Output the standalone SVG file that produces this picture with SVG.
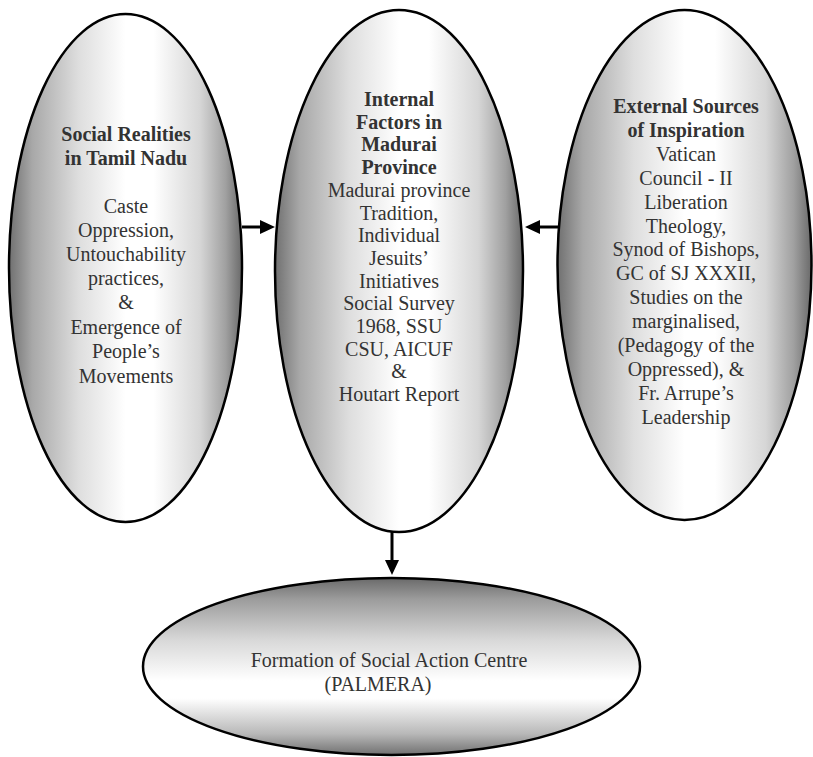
<svg xmlns="http://www.w3.org/2000/svg" width="813" height="757" viewBox="0 0 813 757">
<style>
.node{stroke:#000;stroke-width:2.5}
.v{fill:url(#gv)}
.h{fill:url(#gh)}
text{font-family:"Liberation Serif","Times New Roman",serif;font-size:20px;fill:#333;text-anchor:middle}
.b{font-weight:bold}
.conn{stroke:#000;stroke-width:3;fill:none;marker-end:url(#arr)}
</style>
<defs>
<linearGradient id="gv" x1="0" y1="0" x2="1" y2="0">
<stop offset="0" stop-color="#707070"/>
<stop offset="0.1" stop-color="#a8a8a8"/>
<stop offset="0.3" stop-color="#dedede"/>
<stop offset="0.5" stop-color="#ffffff"/>
<stop offset="0.62" stop-color="#ffffff"/>
<stop offset="0.82" stop-color="#d6d6d6"/>
<stop offset="0.93" stop-color="#a0a0a0"/>
<stop offset="1" stop-color="#6a6a6a"/>
</linearGradient>
<linearGradient id="gh" x1="0" y1="0" x2="0" y2="1">
<stop offset="0" stop-color="#6a6a6a"/>
<stop offset="0.12" stop-color="#9c9c9c"/>
<stop offset="0.35" stop-color="#d8d8d8"/>
<stop offset="0.58" stop-color="#ffffff"/>
<stop offset="0.68" stop-color="#ffffff"/>
<stop offset="0.88" stop-color="#b8b8b8"/>
<stop offset="1" stop-color="#707070"/>
</linearGradient>
<marker id="arr" viewBox="0 0 15 14" refX="7" refY="7" markerWidth="15" markerHeight="14" markerUnits="userSpaceOnUse" orient="auto">
<path d="M0,0 L15,7 L0,14 z" fill="#000"/>
</marker>
</defs>
<rect width="813" height="757" fill="#fff"/>

<g id="social-realities">
<ellipse class="node v" cx="125.5" cy="268" rx="116.5" ry="254"/>
<text class="b" x="126" y="141">Social Realities</text>
<text class="b" x="126" y="165">in Tamil Nadu</text>
<text x="126" y="213">Caste</text>
<text x="126" y="237">Oppression,</text>
<text x="126" y="261">Untouchability</text>
<text x="126" y="285">practices,</text>
<text x="126" y="309">&amp;</text>
<text x="126" y="334">Emergence of</text>
<text x="126" y="358">People’s</text>
<text x="126" y="383">Movements</text>
</g>

<g id="internal-factors">
<ellipse class="node v" cx="399" cy="271" rx="124" ry="261"/>
<text class="b" x="399" y="106">Internal</text>
<text class="b" x="399" y="129">Factors in</text>
<text class="b" x="399" y="151">Madurai</text>
<text class="b" x="399" y="174">Province</text>
<text x="399" y="197">Madurai province</text>
<text x="399" y="220">Tradition,</text>
<text x="399" y="242">Individual</text>
<text x="399" y="265">Jesuits’</text>
<text x="399" y="288">Initiatives</text>
<text x="399" y="310">Social Survey</text>
<text x="399" y="333">1968, SSU</text>
<text x="399" y="356">CSU, AICUF</text>
<text x="399" y="378">&amp;</text>
<text x="399" y="401">Houtart Report</text>
</g>

<g id="external-sources">
<ellipse class="node v" cx="684.5" cy="265" rx="127" ry="255"/>
<text class="b" x="686" y="113">External Sources</text>
<text class="b" x="686" y="137">of Inspiration</text>
<text x="686" y="161">Vatican</text>
<text x="686" y="185">Council - II</text>
<text x="686" y="209">Liberation</text>
<text x="686" y="233">Theology,</text>
<text x="686" y="256">Synod of Bishops,</text>
<text x="686" y="280">GC of SJ XXXII,</text>
<text x="686" y="304">Studies on the</text>
<text x="686" y="328">marginalised,</text>
<text x="686" y="352">(Pedagogy of the</text>
<text x="686" y="376">Oppressed), &amp;</text>
<text x="686" y="400">Fr. Arrupe’s</text>
<text x="686" y="424">Leadership</text>
</g>

<g id="palmera">
<ellipse class="node h" cx="391.5" cy="666.5" rx="248.5" ry="88.5"/>
<text x="389" y="667" font-size="21">Formation of Social Action Centre</text>
<text x="378" y="691" font-size="21">(PALMERA)</text>
</g>

<g id="connectors">
<line class="conn" x1="242" y1="227" x2="267" y2="227"/>
<line class="conn" x1="558" y1="227" x2="533" y2="227"/>
<line class="conn" x1="392" y1="532" x2="392" y2="567"/>
</g>
</svg>
